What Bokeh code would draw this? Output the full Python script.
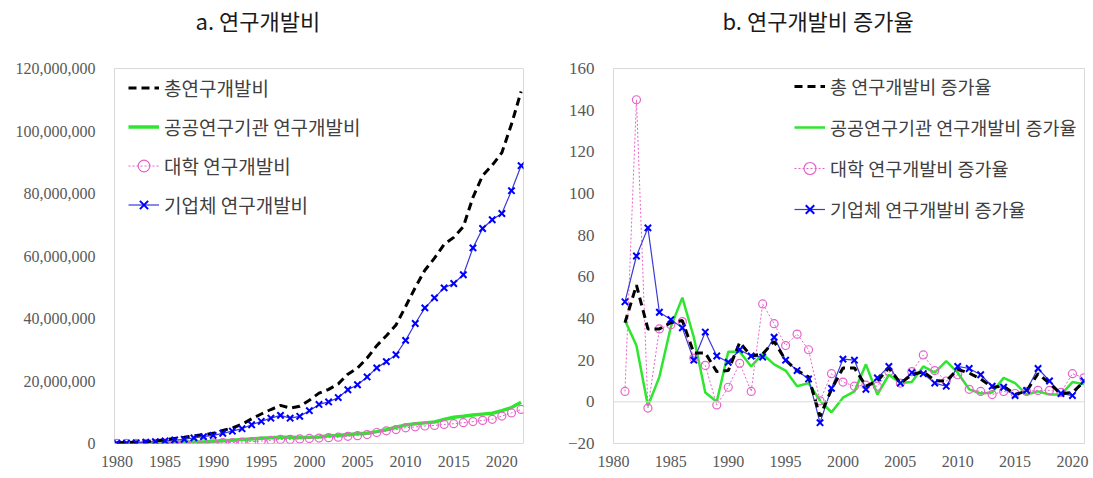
from bokeh.plotting import figure
from bokeh.models import Range1d, Legend, LegendItem, Span, NumeralTickFormatter, FixedTicker
from bokeh.core.properties import value
from bokeh.layouts import row, column
from bokeh.embed import file_html
from bokeh.resources import INLINE

# ---------------- data ----------------
years_a = list(range(1980, 2023))
total = [214000, 295000, 461000, 622000, 837000, 1155000, 1600000, 1980000, 2450000, 2820000,
         3250000, 4158000, 4989000, 6153000, 7895000, 9441000, 10878000, 12186000, 11337000, 11922000,
         13849000, 16111000, 17325000, 19069000, 22185000, 24155000, 27346000, 31301000, 34498000, 37929000,
         43855000, 49890000, 55450000, 59301000, 63734000, 65959000, 69406000, 78789000, 85729000, 89047000,
         93072000, 102135000, 112646000]
public = [90000, 125000, 160000, 157000, 178000, 243000, 365000, 490000, 515000, 515000,
          700000, 870000, 1020000, 1250000, 1470000, 1690000, 1820000, 1980000, 2000000, 1900000,
          1960000, 2080000, 2450000, 2540000, 2870000, 3100000, 3300000, 3800000, 4400000, 5200000,
          5900000, 6300000, 6600000, 6900000, 7700000, 8400000, 8700000, 9100000, 9400000, 9700000,
          10500000, 11500000, 13200000]
univ = [25000, 26000, 65000, 63000, 85000, 117000, 162000, 196000, 230000, 227000,
        243000, 288000, 302000, 444000, 612000, 777000, 1030000, 1290000, 1300000, 1470000,
        1610000, 1730000, 1870000, 2010000, 2300000, 2510000, 2870000, 3520000, 4050000, 4450000,
        5030000, 5330000, 5600000, 5800000, 6090000, 6330000, 6650000, 7020000, 7400000, 7730000,
        8780000, 9790000, 10900000]
business = [90000, 130000, 225000, 410000, 590000, 830000, 1120000, 1350000, 1800000, 2200000,
            2600000, 3250000, 3950000, 4750000, 6000000, 7100000, 8100000, 9000000, 8100000, 8700000,
            10500000, 12500000, 13300000, 14700000, 17200000, 18800000, 21300000, 24200000, 26200000, 28400000,
            33000000, 38400000, 43400000, 46600000, 49800000, 51200000, 54000000, 62600000, 68800000, 71600000,
            73600000, 80900000, 88900000]

years_b = list(range(1981, 2022))
g_total = [38, 56, 35, 35, 38, 39, 23.5, 23.5, 14.5, 15,
           28.5, 22, 23, 29, 20, 15, 12, -7, 6, 16.2,
           16.3, 7.5, 10, 16.3, 9, 13, 14.5, 10.2, 10, 15.6,
           13.8, 11, 7, 7.5, 3.5, 5.2, 13.5, 8.8, 3.9, 4.5, 9.7]
g_public = [39, 27, -2, 12, 36, 50, 31, 4.5, 0, 24,
            24, 17, 23, 18, 15, 7.5, 9, 0.5, -5, 2,
            5, 18, 3.5, 13, 9, 9.5, 17, 14, 19.5, 14,
            6, 4, 4.5, 11.5, 9, 3.5, 5, 3.5, 3.5, 9.5, 8.5]
g_univ = [5, 145, -3, 35, 37, 38.5, 21, 17.5, -1.5, 7,
          18.5, 5, 47, 37.5, 27, 32.5, 25, 0.5, 13.5, 9.5,
          7.5, 8, 7.5, 14.5, 9, 14.5, 22.5, 15, 10, 13,
          6, 5, 3.5, 5, 4, 5, 5.5, 5.5, 4.5, 13.5, 11.5]
g_business = [48, 70, 83.5, 43, 39.5, 35.5, 20, 33.5, 22, 19,
              25, 22, 21.5, 31, 20, 15, 11, -10, 6.5, 20.5,
              20, 6, 11.5, 17, 9, 14, 13.5, 9, 7.5, 17,
              16, 13, 7.5, 7, 3, 5.5, 16, 10, 4, 3, 10]

year_ticks = [1980, 1985, 1990, 1995, 2000, 2005, 2010, 2015, 2020]
ticks_a = [0, 20000000, 40000000, 60000000, 80000000, 100000000, 120000000]
ticks_b = [-20, 0, 20, 40, 60, 80, 100, 120, 140, 160]

titles = ["a.   연구개발비", "b.   연구개발비    증가율"]
labels_a = ["총연구개발비", "공공연구기관 연구개발비", "대학 연구개발비", "기업체 연구개발비"]
labels_b = ["총 연구개발비 증가율", "공공연구기관 연구개발비 증가율", "대학 연구개발비 증가율", "기업체 연구개발비 증가율"]

# ---------------- style ----------------
FONT_KR = "Noto Sans CJK KR"
FONT_NUM = "Liberation Serif"
BLACK = "#000000"
GREEN = "#2ee62e"
PINK = "#e664c8"
BLUE_L = "#3a3ad6"
BLUE_M = "#0000ff"
FRAME = "#d9d9d9"
TOTAL_W = 1092
TITLE_H = 40

# ---------------- title strip ----------------
pt = figure(width=TOTAL_W, height=TITLE_H, output_backend="svg", toolbar_location=None,
            x_range=Range1d(0, TOTAL_W), y_range=Range1d(0, TITLE_H),
            x_axis_type=None, y_axis_type=None,
            min_border_left=0, min_border_right=0, min_border_top=0, min_border_bottom=0)
pt.outline_line_color = None
pt.xgrid.visible = False
pt.ygrid.visible = False
pt.text(x=[195, 722], y=[TITLE_H - 19, TITLE_H - 19], text=titles,
        text_font=value(FONT_KR), text_font_size="22px", text_color="#1a1a1a",
        text_baseline="middle", text_align="left")


def base_fig(width, height, mb_left, mb_right, mb_top, mb_bottom, xr, yr):
    p = figure(width=width, height=height, output_backend="svg", toolbar_location=None,
               x_range=xr, y_range=yr,
               min_border_left=mb_left, min_border_right=mb_right,
               min_border_top=mb_top, min_border_bottom=mb_bottom)
    p.xgrid.visible = False
    p.ygrid.visible = False
    p.outline_line_color = FRAME
    p.outline_line_width = 1
    p.background_fill_color = "white"
    p.border_fill_color = "white"
    for ax in list(p.xaxis) + list(p.yaxis):
        ax.axis_line_color = None
        ax.major_tick_line_color = None
        ax.minor_tick_line_color = None
        ax.major_tick_out = 0
        ax.major_tick_in = 0
        ax.minor_tick_out = 0
        ax.minor_tick_in = 0
        ax.major_label_text_font = FONT_NUM
        ax.major_label_text_font_size = "16px"
        ax.major_label_text_color = "#595959"
    p.xaxis.ticker = FixedTicker(ticks=year_ticks)
    p.xaxis.major_label_standoff = 12
    p.yaxis.major_label_standoff = 19
    return p


def make_legend(items, loc, lh, spacing, fs):
    return Legend(items=items, location=loc, orientation="vertical",
                  glyph_width=31, glyph_height=lh, label_height=lh, spacing=spacing,
                  padding=0, margin=0, label_standoff=5,
                  border_line_color=None, background_fill_alpha=0,
                  label_text_font=FONT_KR, label_text_font_size=fs,
                  label_text_color="#404040")


# ---------------- panel a ----------------
pa = base_fig(546, 436, 114, 23, 28, 33,
              Range1d(1979.75, 2022.25), Range1d(0, 120000000))
pa.yaxis.ticker = FixedTicker(ticks=ticks_a)
pa.yaxis.formatter = NumeralTickFormatter(format="0,0")

ra_pub = pa.line(years_a, public, line_color=GREEN, line_width=3.5)
ra_uni_l = pa.line(years_a, univ, line_color=PINK, line_width=1, line_dash="2 2")
ra_uni_m = pa.scatter(years_a, univ, marker="circle", size=8, fill_color=None,
                      line_color=PINK, line_width=1.2)
ra_bus_l = pa.line(years_a, business, line_color=BLUE_L, line_width=1.2)
ra_tot = pa.line(years_a, total, line_color=BLACK, line_width=3, line_dash="8 5")
ra_bus_m = pa.scatter(years_a, business, marker="x", size=9, line_color=BLUE_M, line_width=2)

leg_a = make_legend([
    LegendItem(label=labels_a[0], renderers=[ra_tot]),
    LegendItem(label=labels_a[1], renderers=[ra_pub]),
    LegendItem(label=labels_a[2], renderers=[ra_uni_l, ra_uni_m]),
    LegendItem(label=labels_a[3], renderers=[ra_bus_l, ra_bus_m]),
], (14, 224), 29, 10, "19px")
pa.add_layout(leg_a)

# ---------------- panel b ----------------
pb = base_fig(546, 436, 67, 8, 27, 32,
              Range1d(1980, 2021.05), Range1d(-20, 160))
pb.yaxis.ticker = FixedTicker(ticks=ticks_b)
pb.yaxis.major_label_text_font_size = "17px"
pb.add_layout(Span(location=0, dimension="width", line_color=FRAME, line_width=1))

rb_pub = pb.line(years_b, g_public, line_color=GREEN, line_width=2.5)
rb_uni_l = pb.line(years_b, g_univ, line_color=PINK, line_width=1, line_dash="2 2")
rb_uni_m = pb.scatter(years_b, g_univ, marker="circle", size=8, fill_color=None,
                      line_color=PINK, line_width=1.2)
rb_bus_l = pb.line(years_b, g_business, line_color=BLUE_L, line_width=1.2)
rb_tot = pb.line(years_b, g_total, line_color=BLACK, line_width=3, line_dash="8 5")
rb_bus_m = pb.scatter(years_b, g_business, marker="x", size=9, line_color=BLUE_M, line_width=2)

leg_b = make_legend([
    LegendItem(label=labels_b[0], renderers=[rb_tot]),
    LegendItem(label=labels_b[1], renderers=[rb_pub]),
    LegendItem(label=labels_b[2], renderers=[rb_uni_l, rb_uni_m]),
    LegendItem(label=labels_b[3], renderers=[rb_bus_l, rb_bus_m]),
], (181, 219), 30, 11, "18.5px")
pb.add_layout(leg_b)

layout = column(pt, row(pa, pb))
open("out.html", "w").write(file_html(layout, INLINE))
